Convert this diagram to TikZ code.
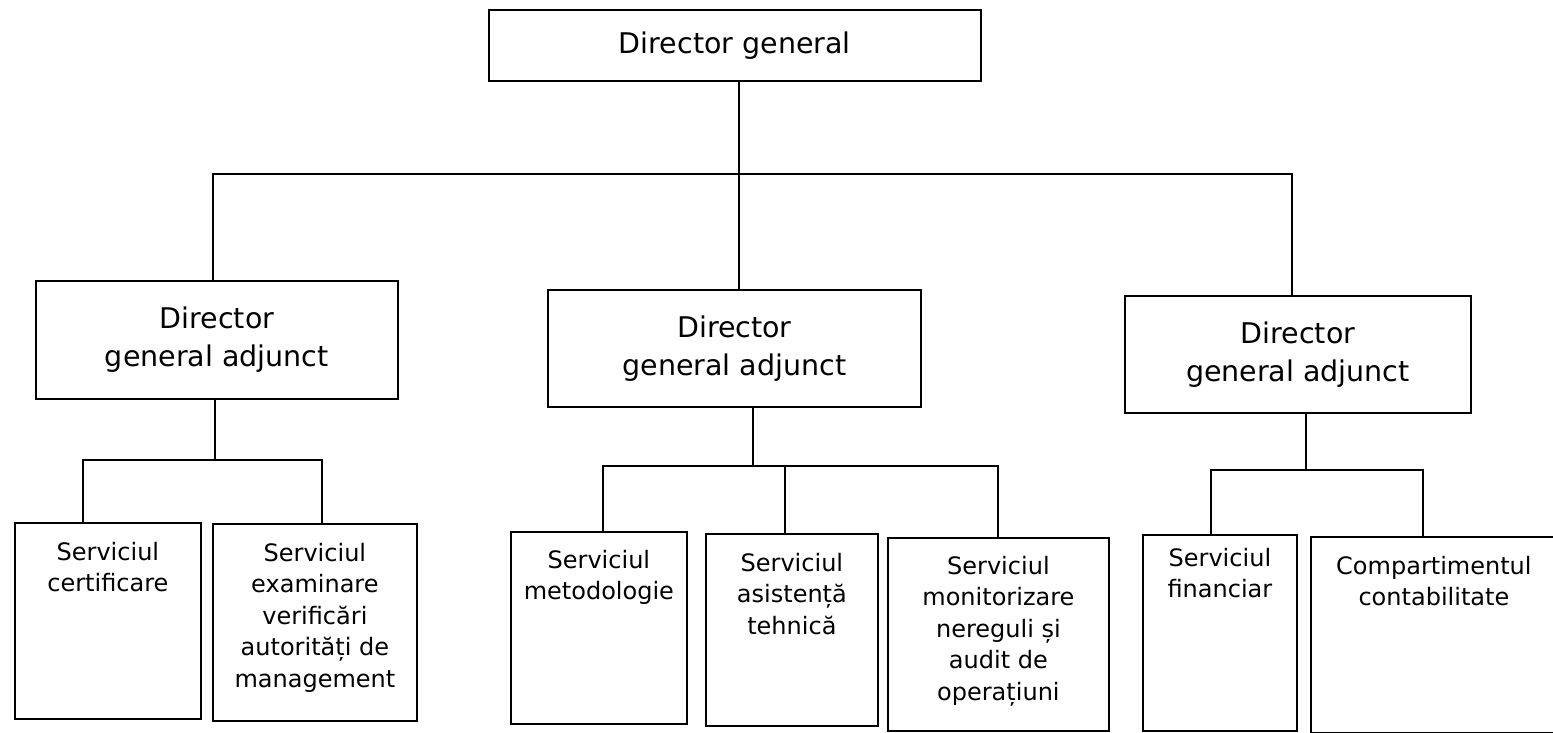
\documentclass[tikz,border=0pt]{standalone}
\usepackage{fontspec}
\setmainfont{DejaVu Sans}
\usetikzlibrary{calc}
\tikzset{
  orgbox/.style={draw, line width=1.8pt, inner sep=0pt, rectangle, anchor=north west},
  link/.style={line width=1.5pt},
}
\newcommand{\bigtxt}{\fontsize{28.5}{38}\selectfont}
\newcommand{\smalltxt}{\fontsize{24}{31.5}\selectfont}
% name, x, y, w, h, pad, text
\newcommand{\svc}[7]{\node[orgbox, minimum width=#4pt, minimum height=#5pt] (#1) at (#2,#3)
  {\parbox[c][\dimexpr #5pt-#6pt*2\relax][t]{\dimexpr #4pt-8pt\relax}{\centering\smalltxt #7\par}};}
\begin{document}
\begin{tikzpicture}[x=1pt,y=-1pt]
\useasboundingbox (0,0) rectangle (1553,733);
% top
\node[orgbox, minimum width=492pt, minimum height=71pt, font=\bigtxt] (dg) at (488,9) {Director general};
% deputies
\node[orgbox, minimum width=362pt, minimum height=118pt, font=\bigtxt, align=center] (dga1) at (35,280) {Director\\general adjunct};
\node[orgbox, minimum width=373pt, minimum height=117pt, font=\bigtxt, align=center] (dga2) at (547,289) {Director\\general adjunct};
\node[orgbox, minimum width=346pt, minimum height=117pt, font=\bigtxt, align=center] (dga3) at (1124,295) {Director\\general adjunct};
% services
\svc{s1}{14}{522}{186}{196}{19}{Serviciul\\certificare}
\svc{s2}{212}{523}{204}{197}{19}{Serviciul\\examinare\\verificări\\autorități de\\management}
\svc{s3}{510}{531}{176}{192}{18}{Serviciul\\metodologie}
\svc{s4}{705}{533}{172}{192}{19}{Serviciul\\asistență\\tehnică}
\svc{s5}{887}{537}{221}{193}{18}{Serviciul\\monitorizare\\nereguli și\\audit de\\operațiuni}
\svc{s6}{1142}{534}{154}{196}{13}{Serviciul\\financiar}
\svc{s7}{1310}{536}{252}{196}{19}{\hspace*{-6pt}Compartimentul\\\hspace*{-6pt}contabilitate}
% junctions
\coordinate (j0) at (739,174);
\coordinate (t1) at (213,174);
\coordinate (t3) at (1292,174);
\coordinate (l0) at (215,460);
\coordinate (la) at (83,460);
\coordinate (lb) at (322,460);
\coordinate (m0) at (753,466);
\coordinate (ma) at (603,466);
\coordinate (mb) at (785,466);
\coordinate (mc) at (998,466);
\coordinate (r0) at (1306,470);
\coordinate (ra) at (1211,470);
\coordinate (rb) at (1423,470);
% connectors
\draw[link] (dg.south -| j0) -- (dga2.north -| j0);
\draw[link] (dga1.north -| t1) -- (t1) -- (t3) -- (dga3.north -| t3);
\draw[link] (dga1.south -| l0) -- (l0);
\draw[link] (s1.north -| la) -- (la) -- (lb) -- (s2.north -| lb);
\draw[link] (dga2.south -| m0) -- (m0);
\draw[link] (s3.north -| ma) -- (ma) -- (mc) -- (s5.north -| mc);
\draw[link] (mb) -- (s4.north -| mb);
\draw[link] (dga3.south -| r0) -- (r0);
\draw[link] (s6.north -| ra) -- (ra) -- (rb) -- (s7.north -| rb);
\end{tikzpicture}
\end{document}
